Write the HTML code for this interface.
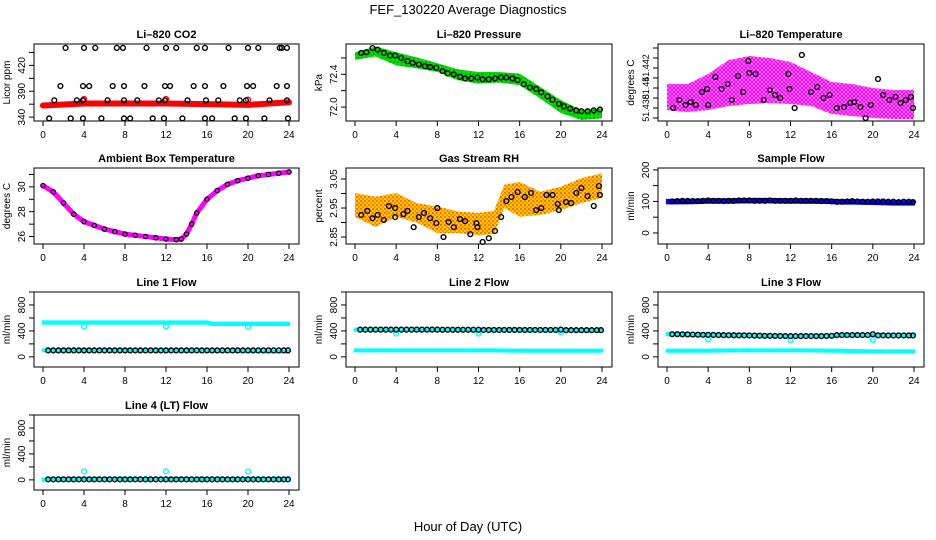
<!DOCTYPE html>
<html><head><meta charset="utf-8"><style>
html,body{margin:0;padding:0;background:#fff;}
svg{display:block;font-family:"Liberation Sans",Arial,sans-serif;}
</style></head><body>
<svg id="chart" width="936" height="540" viewBox="0 0 936 540" xmlns="http://www.w3.org/2000/svg">
<defs>
<pattern id="pMag" width="4" height="4" patternUnits="userSpaceOnUse"><rect width="4" height="4" fill="#ffb0ff"/><circle cx="2" cy="2" r="1.5" fill="none" stroke="#ff00ff" stroke-width="1.2"/></pattern>
<pattern id="pRH" width="4" height="4" patternUnits="userSpaceOnUse"><rect width="4" height="4" fill="#ffcc00"/><circle cx="1" cy="1" r="0.9" fill="#ff2a00"/><circle cx="3" cy="3" r="0.9" fill="#ff6a00"/></pattern>
<pattern id="pGrn" width="4" height="4" patternUnits="userSpaceOnUse"><rect width="4" height="4" fill="#00dd00"/><circle cx="2" cy="2" r="0.6" fill="#004400"/></pattern>
</defs>
<text x="468" y="14" text-anchor="middle" font-size="13">FEF_130220  Average Diagnostics</text>
<text x="468" y="531" text-anchor="middle" font-size="13">Hour of Day (UTC)</text>
<g id="panels"></g>
</svg>
<script>
// ---------- data ----------
const xTicks=[0,4,8,12,16,20,24];
// CO2
const co2RowA=[2.2,4.0,5.1,7.2,7.8,10.1,12.0,13.0,15.0,15.8,18.1,20.0,21.0,23.1,23.3,23.8];
const co2RowB=[1.7,3.9,4.5,6.8,7.9,9.9,11.9,12.4,14.7,15.8,17.6,19.9,20.5,22.8,23.8];
const co2RowC=[1.1,3.3,3.9,6.3,7.9,9.2,11.3,11.9,14.1,15.9,17.1,19.2,19.8,22.1,23.8];
const co2RowD=[0.6,2.7,3.9,5.7,7.9,8.5,10.7,11.8,13.6,15.8,16.5,18.7,19.8,21.6,23.9];
const co2Levels=[447,388,366,338];
const co2RedHours=[0,4,8,12,16,20,24];
const co2RedVals=[358,361,361,361,360,359,363];
// Pressure
const bandHours2=[0,2,4,6,8,10,12,14,16,18,20,22,24];
const presUpper=[72.67,72.74,72.67,72.606,72.537,72.46,72.428,72.428,72.408,72.246,72.085,71.964,71.985];
const presLower=[72.578,72.618,72.509,72.473,72.43,72.327,72.287,72.30,72.267,72.105,71.927,71.842,71.864];
const presPtHours=[0.6,1.1,1.7,2.2,2.8,3.4,3.9,4.5,5.1,5.6,6.2,6.8,7.3,7.9,8.5,9.0,9.6,10.2,10.7,11.3,11.9,12.4,13.0,13.6,14.2,14.7,15.3,15.8,16.4,17.0,17.6,18.1,18.7,19.2,19.8,20.3,20.9,21.5,22.0,22.6,23.2,23.8];
const presPtVals=[72.66,72.67,72.72,72.70,72.66,72.63,72.63,72.60,72.56,72.54,72.52,72.50,72.49,72.48,72.44,72.41,72.40,72.37,72.35,72.35,72.36,72.34,72.34,72.35,72.36,72.36,72.35,72.33,72.28,72.24,72.22,72.18,72.13,72.09,72.04,72.01,71.98,71.96,71.95,71.95,71.96,71.97];
// Li-820 temperature
const tempUpper=[51.4404,51.4404,51.4414,51.4428,51.4432,51.4430,51.4426,51.4416,51.4406,51.4404,51.4400,51.4398,51.4398];
const tempLower=[51.4378,51.4376,51.4378,51.4382,51.4384,51.4385,51.4384,51.4382,51.4374,51.4372,51.4370,51.4369,51.4369];
const tempPtHours=[0.6,1.2,1.8,2.3,2.8,3.4,3.9,4.0,4.7,5.3,5.9,6.3,6.9,7.4,7.9,8.0,8.6,9.4,10.0,10.5,11.0,11.8,11.9,12.4,13.1,14.0,14.6,15.2,15.8,16.5,17.2,17.8,18.2,18.8,19.3,19.8,20.5,21.0,21.6,22.2,22.7,23.2,23.7,23.9];
const tempPtVals=[51.4380,51.4388,51.4383,51.4386,51.4383,51.4396,51.4399,51.4383,51.4411,51.4399,51.4404,51.4388,51.4412,51.4396,51.4427,51.4415,51.4414,51.4388,51.4398,51.4393,51.4390,51.4414,51.4399,51.4380,51.4433,51.4396,51.4401,51.4390,51.4393,51.4380,51.4381,51.4385,51.4386,51.4381,51.4370,51.4383,51.4409,51.4393,51.4388,51.4391,51.4385,51.4388,51.4391,51.4380];
// Ambient box temperature
const ambHours=[0,1,2,3,4,5,6,7,8,9,10,11,12,13,13.5,14,14.5,15,16,17,18,19,20,21,22,23,24];
const ambVals=[30.1,29.6,28.7,27.8,27.2,26.9,26.6,26.4,26.2,26.1,26.0,25.9,25.8,25.75,25.8,26.2,27.0,27.9,29.0,29.7,30.2,30.5,30.7,30.9,31.0,31.1,31.2];
// Gas stream RH
const rhHours=[0,2,4,6,8,10,12,13.5,14.5,16,18,20,22,24];
const rhUpper=[3.002,2.989,3.002,2.967,2.955,2.938,2.933,2.94,3.03,3.04,3.006,3.024,3.053,3.07];
const rhLower=[2.919,2.885,2.919,2.90,2.864,2.864,2.857,2.86,2.95,2.92,2.926,2.943,2.967,2.985];
const rhPtHours=[0.6,1.2,1.7,2.2,2.8,3.3,3.9,3.9,4.7,5.1,5.7,6.2,6.7,7.3,7.9,8.0,8.6,9.1,9.6,10.2,10.7,11.2,11.8,11.9,12.4,13.0,13.6,14.2,14.7,15.2,15.8,16.5,17.1,17.6,18.1,18.6,19.2,19.7,19.8,20.5,21.0,21.5,22.0,22.6,23.2,23.7,23.8];
const rhPtVals=[2.926,2.940,2.915,2.926,2.909,2.957,2.95,2.919,2.929,2.940,2.884,2.919,2.933,2.915,2.898,2.95,2.85,2.902,2.884,2.912,2.905,2.860,2.898,2.884,2.833,2.846,2.871,2.919,2.974,2.988,3.005,2.988,3.002,2.943,2.95,2.995,2.995,2.964,2.943,2.971,2.967,3.002,3.019,2.991,2.957,3.026,2.995];
// Flows
const flowHours=[0,2,4,6,8,10,12,14,16,16.5,18,20,22,24];
const hourPts=[0.5,1,1.5,2,2.5,3,3.5,4,4.5,5,5.5,6,6.5,7,7.5,8,8.5,9,9.5,10,10.5,11,11.5,12,12.5,13,13.5,14,14.5,15,15.5,16,16.5,17,17.5,18,18.5,19,19.5,20,20.5,21,21.5,22,22.5,23,23.5,23.9];
const sampleBand=[100,100,102,102,103,103,102,102,101,99,99,98,96,96];
const samplePts=[100,101,102,102,101,101,102,103,102,102,101,102,102,103,103,103,102,102,102,103,102,102,102,102,103,102,102,102,102,101,101,100,99,99,100,101,100,99,99,100,100,100,99,99,98,99,99,98];
const line1Upper=[530,530,530,530,530,530,530,530,530,510,510,510,510,510];
const line1Lower=[100,100,100,100,100,100,100,100,100,95,95,90,85,85];
const line1Pts=[100,100,100,100,100,100,100,100,100,100,100,100,100,100,100,100,100,100,100,100,100,100,100,100,100,100,100,100,100,100,100,100,100,100,100,100,100,100,100,100,100,100,100,100,100,100,100,100];
const line2Upper=[420,420,420,420,420,420,415,415,415,410,410,410,410,410];
const line2Lower=[100,100,100,100,100,100,100,100,95,95,95,95,95,95];
const line2Pts=[420,420,420,420,420,420,420,420,420,420,420,420,420,420,420,420,418,418,418,418,418,418,418,418,415,415,415,415,415,415,415,415,415,415,415,415,415,415,415,420,412,412,412,412,412,412,412,412];
const line3Upper=[350,345,340,335,330,325,320,320,320,335,335,335,330,330];
const line3Lower=[95,95,95,100,100,100,100,100,95,95,90,85,85,85];
const line3Pts=[350,350,348,346,344,342,340,340,338,336,335,334,333,332,332,330,328,326,325,324,323,322,321,320,320,320,320,320,320,320,322,325,335,336,336,336,336,336,336,350,332,332,330,330,330,330,330,330];
const line4Upper=[10,10,10,10,10,10,10,10,10,10,10,10,10,10];
const line4Lower=[0,0,0,0,0,0,0,0,0,0,0,0,0,0];
const line4Pts=[8,8,8,8,8,8,8,8,8,8,8,8,8,8,8,8,8,8,8,8,8,8,8,8,8,8,8,8,8,8,8,8,8,8,8,8,8,8,8,8,8,8,8,8,8,8,8,8];
const dipHours=[4,12,20];
const line1DipVals=[470,470,460];
const line2DipVals=[360,360,380];
const line3DipVals=[270,260,260];
const line4DipVals=[130,130,130];

// ---------- layout ----------
const COLS=[[34,299],[346,612],[658,924]];
const ROWS=[[44,121],[168,244],[292,367],[415,490]];
const NS='http://www.w3.org/2000/svg';
const root=document.getElementById('panels');
function mk(tag,attrs,parent){const e=document.createElementNS(NS,tag);for(const k in attrs)e.setAttribute(k,attrs[k]);(parent||root).appendChild(e);return e;}

function panel(col,row,name,title,ylab,ylim,yticks,ylabels,lfs){
  const [L,R]=COLS[col],[T,B]=ROWS[row];
  const g=mk('g',{});
  
  
  const x=h=>L+9+h*(R-L-19)/24;
  const y=v=>B-(v-ylim[0])/(ylim[1]-ylim[0])*(B-T);
  const t=mk('text',{x:(L+R)/2,y:T-6,'text-anchor':'middle','font-size':11,'font-weight':'bold'},g);
  t.textContent=title;
  
  
  const yl=mk('text',{x:0,y:0,'text-anchor':'middle','font-size':10,transform:`translate(${L-24},${(T+B)/2}) rotate(-90)`},g);
  yl.textContent=ylab;
  
  
  const ax=mk('g',{stroke:'#000','stroke-width':1},g);
  
  
  xTicks.forEach(h=>{
    mk('line',{x1:x(h),x2:x(h),y1:B,y2:B+5},ax);
    const tl=mk('text',{x:x(h),y:B+17,'text-anchor':'middle','font-size':10,stroke:'none'},g);
    tl.textContent=h;
    
    
  });
  yticks.forEach((v,i)=>{
    mk('line',{x1:L-5,x2:L,y1:y(v),y2:y(v)},ax);
    if(ylabels[i]!==''){
      const tl=mk('text',{x:0,y:0,'text-anchor':'middle','font-size':lfs||10,transform:`translate(${L-9},${y(v)}) rotate(-90)`},g);
      tl.textContent=ylabels[i];
      
      
    }
  });
  const plot=mk('g',{},g);
  
  
  mk('rect',{x:L,y:T,width:R-L,height:B-T,fill:'none',stroke:'#000','stroke-width':1},g);
  return {x,y,plot};
}
function band(p,hours,up,lo,fill){
  let pts=hours.map((h,i)=>p.x(h)+','+p.y(up[i]));
  for(let i=hours.length-1;i>=0;i--)pts.push(p.x(hours[i])+','+p.y(lo[i]));
  const e=mk('polygon',{points:pts.join(' '),fill:fill,stroke:fill.startsWith('url')?'none':fill,'stroke-width':2},p.plot);
  
  
}
function pts(p,hours,vals,color,r,sw){
  hours.forEach((h,i)=>{
    const c=mk('circle',{cx:p.x(h),cy:p.y(vals[i]),r:r||2.4,fill:'none',stroke:color,'stroke-width':sw||1.4},p.plot);
    
    
  });
}
function line(p,hours,vals,color,w){
  const e=mk('polyline',{points:hours.map((h,i)=>p.x(h)+','+p.y(vals[i])).join(' '),fill:'none',stroke:color,'stroke-width':w,'stroke-linejoin':'round','stroke-linecap':'round'},p.plot);
  
  
}

// CO2
let p=panel(0,0,'co2','Li\u2013820 CO2','Licor ppm',[334,453],[340,360,380,400,420,440],['340','','390','','420','']);
line(p,co2RedHours,co2RedVals,'#ff0000',6);
pts(p,dipHours,[368,368,367],'#ff0000');
[co2RowA,co2RowB,co2RowC,co2RowD].forEach((row,k)=>pts(p,row,row.map(()=>co2Levels[k]),'#000'));
// Pressure
p=panel(1,0,'pressure','Li\u2013820 Pressure','kPa',[71.83,72.77],[72.0,72.2,72.4,72.6],['72.0','','72.4','']);
band(p,bandHours2,presUpper,presLower,'url(#pGrn)');
pts(p,presPtHours,presPtVals,'#000');
// Temperature
p=panel(2,0,'li820-temperature','Li\u2013820 Temperature','degrees C',[51.4367,51.4444],[51.437,51.438,51.439,51.440,51.441,51.442,51.443,51.444],['','51.438','','51.44','','51.442','',''],9);
band(p,bandHours2,tempUpper,tempLower,'url(#pMag)');
pts(p,tempPtHours,tempPtVals,'#000');
// Ambient
p=panel(0,1,'ambient-temperature','Ambient Box Temperature','degrees C',[25.4,31.52],[26,27,28,29,30,31],['26','','28','','30','']);
line(p,ambHours,ambVals,'#ff00ff',5);
pts(p,ambHours,ambVals,'#000',2.2,1.2);
// RH
p=panel(1,1,'gas-stream-rh','Gas Stream RH','percent',[2.826,3.088],[2.85,2.9,2.95,3.0,3.05],['2.85','','2.95','','3.05']);
band(p,rhHours,rhUpper,rhLower,'url(#pRH)');
pts(p,rhPtHours,rhPtVals,'#000');
// Sample flow
p=panel(2,1,'sample-flow','Sample Flow','ml/min',[-35,206],[0,50,100,150,200],['0','','100','','200']);
band(p,flowHours,sampleBand.map(v=>v+5),sampleBand.map(v=>v-6),'#0000ff');
pts(p,hourPts,samplePts,'#000');
// Line flows
const fy=[-156,1000],ft=[0,200,400,600,800,1000],fl=['0','','400','','800',''];
p=panel(0,2,'line-1-flow','Line 1 Flow','ml/min',fy,ft,fl);
band(p,flowHours,line1Upper.map(v=>v+18),line1Upper.map(v=>v-18),'#00ffff');
band(p,flowHours,line1Lower.map(v=>v+16),line1Lower.map(v=>v-16),'#00ffff');
pts(p,dipHours,line1DipVals,'#00ffff');
pts(p,hourPts,line1Pts,'#000');
p=panel(1,2,'line-2-flow','Line 2 Flow','ml/min',fy,ft,fl);
band(p,flowHours,line2Lower.map(v=>v+16),line2Lower.map(v=>v-16),'#00ffff');
band(p,flowHours,line2Upper.map(v=>v+16),line2Upper.map(v=>v-16),'#00ffff');
pts(p,dipHours,line2DipVals,'#00ffff');
pts(p,hourPts,line2Pts,'#000');
p=panel(2,2,'line-3-flow','Line 3 Flow','ml/min',fy,ft,fl);
band(p,flowHours,line3Lower.map(v=>v+16),line3Lower.map(v=>v-16),'#00ffff');
band(p,flowHours,line3Upper.map(v=>v+16),line3Upper.map(v=>v-16),'#00ffff');
pts(p,dipHours,line3DipVals,'#00ffff');
pts(p,hourPts,line3Pts,'#000');
p=panel(0,3,'line-4-flow','Line 4 (LT) Flow','ml/min',fy,ft,fl);
band(p,flowHours,line4Upper.map(v=>v+12),line4Lower.map(v=>v-12),'#00ffff');
pts(p,dipHours,line4DipVals,'#00ffff');
pts(p,hourPts,line4Pts,'#000');
</script>
</body></html>
